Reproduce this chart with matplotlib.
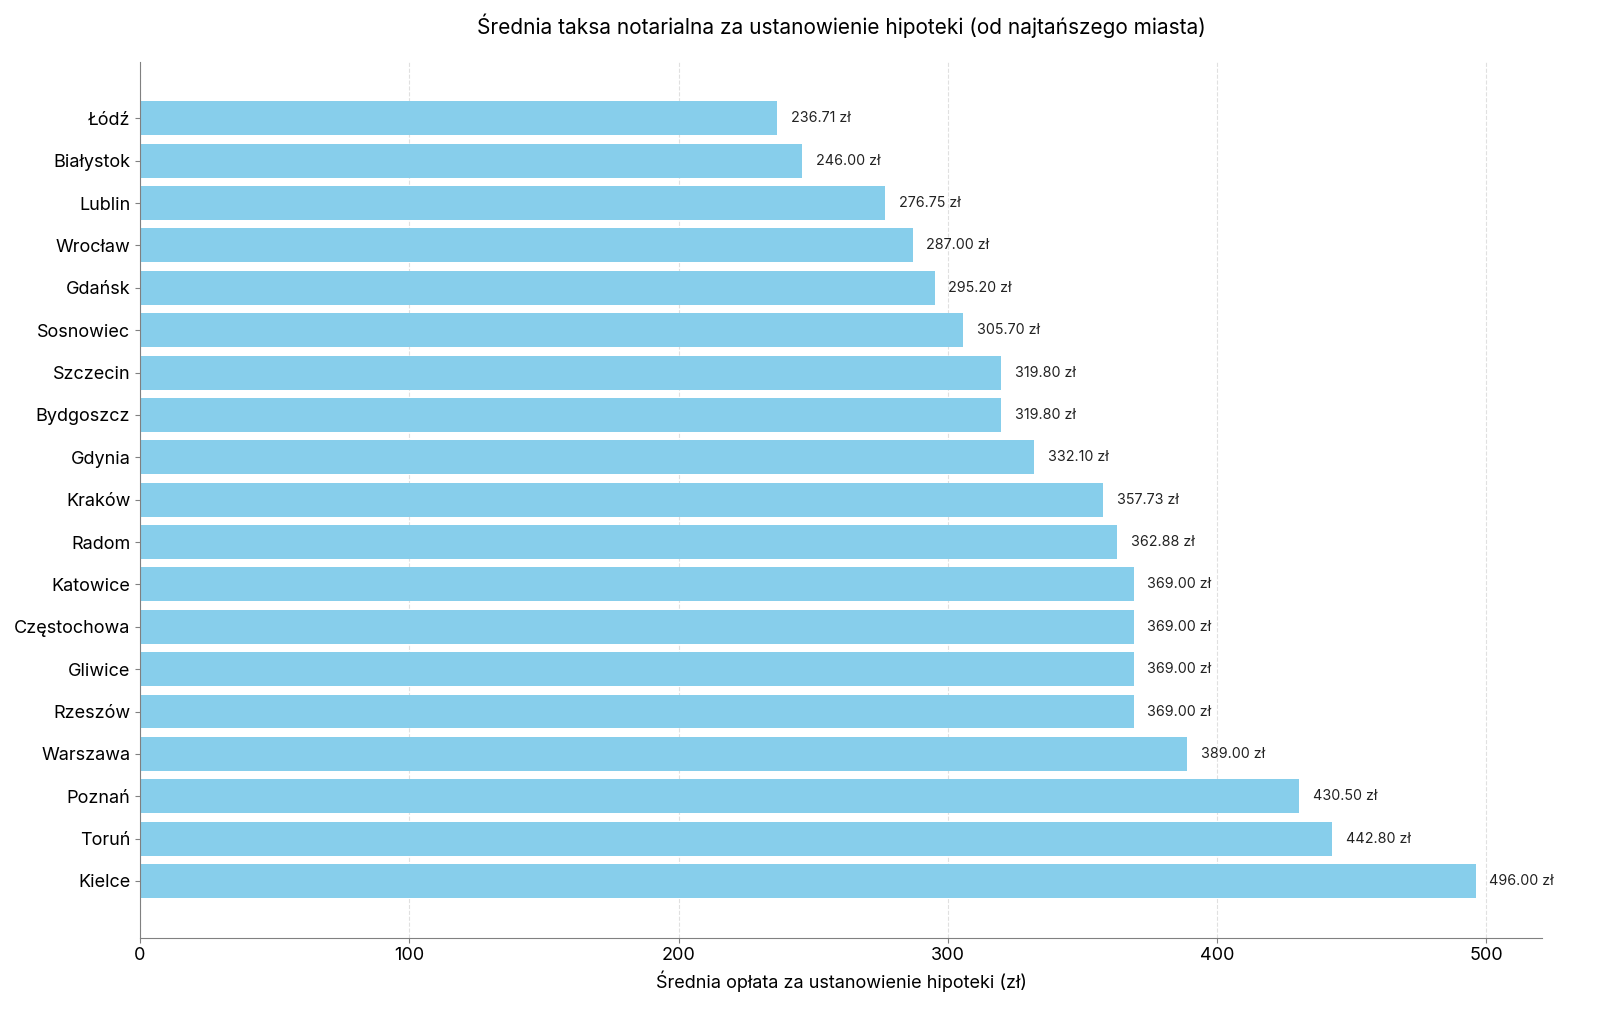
import numpy as np
import matplotlib.pyplot as plt

plt.rcParams['font.family'] = ['Inter', 'DejaVu Sans']

# data, cheapest first
cities = ['Łódź', 'Białystok', 'Lublin', 'Wrocław', 'Gdańsk', 'Sosnowiec', 'Szczecin',
          'Bydgoszcz', 'Gdynia', 'Kraków', 'Radom', 'Katowice', 'Częstochowa',
          'Gliwice', 'Rzeszów', 'Warszawa', 'Poznań', 'Toruń', 'Kielce']
fees = [236.71, 246.00, 276.75, 287.00, 295.20, 305.70, 319.80,
        319.80, 332.10, 357.73, 362.88, 369.00, 369.00,
        369.00, 369.00, 389.00, 430.50, 442.80, 496.00]

fig, ax = plt.subplots(figsize=(16, 10.26), dpi=100)
fig.subplots_adjust(left=0.0875, right=0.964, top=0.94, bottom=0.086)

y = np.arange(len(cities))
bars = ax.barh(y, fees, color='skyblue', height=0.8)
ax.set_yticks(y)
ax.set_yticklabels(cities, fontsize=13)
ax.invert_yaxis()

for yi, v in zip(y, fees):
    ax.text(v + 5, yi, f'{v:.2f} zł', va='center', ha='left', fontsize=10.3, color='#222222')

ax.set_title('Średnia taksa notarialna za ustanowienie hipoteki (od najtańszego miasta)',
             fontsize=15, pad=20)
ax.set_xlabel('Średnia opłata za ustanowienie hipoteki (zł)', fontsize=13)
ax.tick_params(axis='x', labelsize=13, colors='#808080', labelcolor='black')
ax.tick_params(axis='y', colors='#808080', labelcolor='black')

ax.grid(axis='x', linestyle='--', alpha=0.6, color='#cccccc')
ax.set_axisbelow(True)
ax.spines['top'].set_visible(False)
ax.spines['right'].set_visible(False)
ax.spines['left'].set_color('#808080')
ax.spines['bottom'].set_color('#808080')

plt.savefig('out.png', dpi=100)
